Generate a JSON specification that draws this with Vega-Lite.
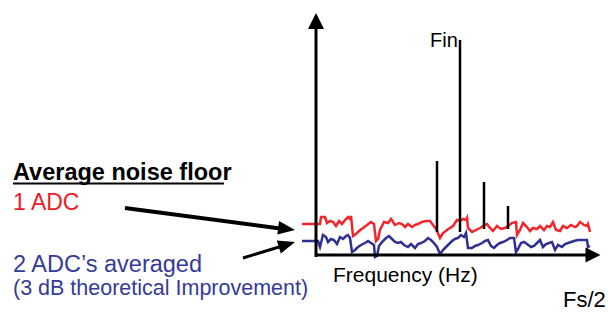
{
  "$schema": "https://vega.github.io/schema/vega-lite/v6.json",
  "width": 608,
  "height": 312,
  "autosize": {"type": "fit", "contains": "padding"},
  "padding": 0,
  "background": "white",
  "config": {"view": {"stroke": null}, "font": "Liberation Sans"},
  "datasets": {
    "noise": [
      {"series": "1 ADC", "x": 302, "y": 224}, {"series": "1 ADC", "x": 320, "y": 224}, {"series": "1 ADC", "x": 321, "y": 217}, {"series": "1 ADC", "x": 325, "y": 217},
      {"series": "1 ADC", "x": 327, "y": 223}, {"series": "1 ADC", "x": 330, "y": 221}, {"series": "1 ADC", "x": 333, "y": 222}, {"series": "1 ADC", "x": 336, "y": 226},
      {"series": "1 ADC", "x": 339, "y": 221}, {"series": "1 ADC", "x": 342, "y": 224}, {"series": "1 ADC", "x": 345, "y": 220}, {"series": "1 ADC", "x": 348, "y": 217},
      {"series": "1 ADC", "x": 350, "y": 219}, {"series": "1 ADC", "x": 351, "y": 216}, {"series": "1 ADC", "x": 353, "y": 236}, {"series": "1 ADC", "x": 356, "y": 234},
      {"series": "1 ADC", "x": 359, "y": 231}, {"series": "1 ADC", "x": 363, "y": 228}, {"series": "1 ADC", "x": 367, "y": 225}, {"series": "1 ADC", "x": 371, "y": 222},
      {"series": "1 ADC", "x": 374, "y": 224}, {"series": "1 ADC", "x": 376, "y": 241}, {"series": "1 ADC", "x": 378, "y": 239}, {"series": "1 ADC", "x": 380, "y": 230},
      {"series": "1 ADC", "x": 384, "y": 222}, {"series": "1 ADC", "x": 388, "y": 223}, {"series": "1 ADC", "x": 391, "y": 219}, {"series": "1 ADC", "x": 395, "y": 225},
      {"series": "1 ADC", "x": 399, "y": 223}, {"series": "1 ADC", "x": 402, "y": 224}, {"series": "1 ADC", "x": 405, "y": 227}, {"series": "1 ADC", "x": 408, "y": 224},
      {"series": "1 ADC", "x": 412, "y": 227}, {"series": "1 ADC", "x": 415, "y": 225}, {"series": "1 ADC", "x": 418, "y": 224}, {"series": "1 ADC", "x": 422, "y": 222},
      {"series": "1 ADC", "x": 426, "y": 221}, {"series": "1 ADC", "x": 430, "y": 221}, {"series": "1 ADC", "x": 433, "y": 225}, {"series": "1 ADC", "x": 436, "y": 229},
      {"series": "1 ADC", "x": 437, "y": 231}, {"series": "1 ADC", "x": 440, "y": 238}, {"series": "1 ADC", "x": 443, "y": 233}, {"series": "1 ADC", "x": 447, "y": 230},
      {"series": "1 ADC", "x": 450, "y": 228}, {"series": "1 ADC", "x": 453, "y": 226}, {"series": "1 ADC", "x": 457, "y": 220}, {"series": "1 ADC", "x": 460, "y": 221},
      {"series": "1 ADC", "x": 463, "y": 219}, {"series": "1 ADC", "x": 466, "y": 220}, {"series": "1 ADC", "x": 467, "y": 218}, {"series": "1 ADC", "x": 468, "y": 228},
      {"series": "1 ADC", "x": 472, "y": 232}, {"series": "1 ADC", "x": 476, "y": 230}, {"series": "1 ADC", "x": 480, "y": 228}, {"series": "1 ADC", "x": 483, "y": 226},
      {"series": "1 ADC", "x": 487, "y": 224}, {"series": "1 ADC", "x": 490, "y": 228}, {"series": "1 ADC", "x": 493, "y": 231}, {"series": "1 ADC", "x": 497, "y": 226},
      {"series": "1 ADC", "x": 501, "y": 229}, {"series": "1 ADC", "x": 505, "y": 228}, {"series": "1 ADC", "x": 508, "y": 226}, {"series": "1 ADC", "x": 512, "y": 223},
      {"series": "1 ADC", "x": 516, "y": 222}, {"series": "1 ADC", "x": 517, "y": 235}, {"series": "1 ADC", "x": 520, "y": 230}, {"series": "1 ADC", "x": 523, "y": 223},
      {"series": "1 ADC", "x": 527, "y": 227}, {"series": "1 ADC", "x": 530, "y": 231}, {"series": "1 ADC", "x": 533, "y": 228}, {"series": "1 ADC", "x": 537, "y": 229},
      {"series": "1 ADC", "x": 540, "y": 226}, {"series": "1 ADC", "x": 544, "y": 230}, {"series": "1 ADC", "x": 547, "y": 226}, {"series": "1 ADC", "x": 550, "y": 227},
      {"series": "1 ADC", "x": 553, "y": 222}, {"series": "1 ADC", "x": 556, "y": 230}, {"series": "1 ADC", "x": 560, "y": 231}, {"series": "1 ADC", "x": 563, "y": 226},
      {"series": "1 ADC", "x": 567, "y": 228}, {"series": "1 ADC", "x": 571, "y": 225}, {"series": "1 ADC", "x": 575, "y": 227}, {"series": "1 ADC", "x": 577, "y": 226},
      {"series": "1 ADC", "x": 580, "y": 222}, {"series": "1 ADC", "x": 584, "y": 225}, {"series": "1 ADC", "x": 587, "y": 226}, {"series": "1 ADC", "x": 588, "y": 224},
      {"series": "1 ADC", "x": 590, "y": 232},
      {"series": "2 ADC's averaged", "x": 302, "y": 241}, {"series": "2 ADC's averaged", "x": 318, "y": 241}, {"series": "2 ADC's averaged", "x": 320, "y": 247}, {"series": "2 ADC's averaged", "x": 323, "y": 235},
      {"series": "2 ADC's averaged", "x": 326, "y": 237}, {"series": "2 ADC's averaged", "x": 328, "y": 242}, {"series": "2 ADC's averaged", "x": 331, "y": 239}, {"series": "2 ADC's averaged", "x": 334, "y": 240},
      {"series": "2 ADC's averaged", "x": 337, "y": 244}, {"series": "2 ADC's averaged", "x": 340, "y": 237}, {"series": "2 ADC's averaged", "x": 343, "y": 239}, {"series": "2 ADC's averaged", "x": 346, "y": 236},
      {"series": "2 ADC's averaged", "x": 348, "y": 235}, {"series": "2 ADC's averaged", "x": 350, "y": 238}, {"series": "2 ADC's averaged", "x": 352, "y": 252}, {"series": "2 ADC's averaged", "x": 355, "y": 250},
      {"series": "2 ADC's averaged", "x": 358, "y": 247}, {"series": "2 ADC's averaged", "x": 361, "y": 245}, {"series": "2 ADC's averaged", "x": 365, "y": 243}, {"series": "2 ADC's averaged", "x": 368, "y": 241},
      {"series": "2 ADC's averaged", "x": 371, "y": 243}, {"series": "2 ADC's averaged", "x": 374, "y": 245}, {"series": "2 ADC's averaged", "x": 375, "y": 257}, {"series": "2 ADC's averaged", "x": 377, "y": 256},
      {"series": "2 ADC's averaged", "x": 379, "y": 246}, {"series": "2 ADC's averaged", "x": 382, "y": 242}, {"series": "2 ADC's averaged", "x": 386, "y": 238}, {"series": "2 ADC's averaged", "x": 389, "y": 236},
      {"series": "2 ADC's averaged", "x": 392, "y": 239}, {"series": "2 ADC's averaged", "x": 395, "y": 242}, {"series": "2 ADC's averaged", "x": 398, "y": 243}, {"series": "2 ADC's averaged", "x": 401, "y": 242},
      {"series": "2 ADC's averaged", "x": 404, "y": 245}, {"series": "2 ADC's averaged", "x": 408, "y": 247}, {"series": "2 ADC's averaged", "x": 411, "y": 244}, {"series": "2 ADC's averaged", "x": 415, "y": 248},
      {"series": "2 ADC's averaged", "x": 418, "y": 244}, {"series": "2 ADC's averaged", "x": 421, "y": 243}, {"series": "2 ADC's averaged", "x": 425, "y": 241}, {"series": "2 ADC's averaged", "x": 428, "y": 238},
      {"series": "2 ADC's averaged", "x": 431, "y": 240}, {"series": "2 ADC's averaged", "x": 434, "y": 243}, {"series": "2 ADC's averaged", "x": 437, "y": 247}, {"series": "2 ADC's averaged", "x": 440, "y": 254},
      {"series": "2 ADC's averaged", "x": 443, "y": 250}, {"series": "2 ADC's averaged", "x": 446, "y": 247}, {"series": "2 ADC's averaged", "x": 449, "y": 244}, {"series": "2 ADC's averaged", "x": 452, "y": 241},
      {"series": "2 ADC's averaged", "x": 455, "y": 239}, {"series": "2 ADC's averaged", "x": 458, "y": 238}, {"series": "2 ADC's averaged", "x": 461, "y": 235}, {"series": "2 ADC's averaged", "x": 464, "y": 237},
      {"series": "2 ADC's averaged", "x": 466, "y": 233}, {"series": "2 ADC's averaged", "x": 468, "y": 248}, {"series": "2 ADC's averaged", "x": 472, "y": 248}, {"series": "2 ADC's averaged", "x": 475, "y": 246},
      {"series": "2 ADC's averaged", "x": 478, "y": 245}, {"series": "2 ADC's averaged", "x": 482, "y": 243}, {"series": "2 ADC's averaged", "x": 485, "y": 241}, {"series": "2 ADC's averaged", "x": 488, "y": 240},
      {"series": "2 ADC's averaged", "x": 491, "y": 246}, {"series": "2 ADC's averaged", "x": 494, "y": 248}, {"series": "2 ADC's averaged", "x": 497, "y": 245}, {"series": "2 ADC's averaged", "x": 500, "y": 243},
      {"series": "2 ADC's averaged", "x": 503, "y": 242}, {"series": "2 ADC's averaged", "x": 507, "y": 240}, {"series": "2 ADC's averaged", "x": 510, "y": 238}, {"series": "2 ADC's averaged", "x": 514, "y": 238},
      {"series": "2 ADC's averaged", "x": 516, "y": 252}, {"series": "2 ADC's averaged", "x": 518, "y": 249}, {"series": "2 ADC's averaged", "x": 521, "y": 243}, {"series": "2 ADC's averaged", "x": 524, "y": 242},
      {"series": "2 ADC's averaged", "x": 527, "y": 244}, {"series": "2 ADC's averaged", "x": 531, "y": 247}, {"series": "2 ADC's averaged", "x": 534, "y": 246}, {"series": "2 ADC's averaged", "x": 537, "y": 243},
      {"series": "2 ADC's averaged", "x": 540, "y": 240}, {"series": "2 ADC's averaged", "x": 543, "y": 247}, {"series": "2 ADC's averaged", "x": 546, "y": 244}, {"series": "2 ADC's averaged", "x": 549, "y": 243},
      {"series": "2 ADC's averaged", "x": 552, "y": 242}, {"series": "2 ADC's averaged", "x": 555, "y": 250}, {"series": "2 ADC's averaged", "x": 558, "y": 245}, {"series": "2 ADC's averaged", "x": 562, "y": 247},
      {"series": "2 ADC's averaged", "x": 565, "y": 244}, {"series": "2 ADC's averaged", "x": 568, "y": 243}, {"series": "2 ADC's averaged", "x": 571, "y": 242}, {"series": "2 ADC's averaged", "x": 574, "y": 241},
      {"series": "2 ADC's averaged", "x": 578, "y": 240}, {"series": "2 ADC's averaged", "x": 583, "y": 240}, {"series": "2 ADC's averaged", "x": 587, "y": 240}, {"series": "2 ADC's averaged", "x": 588, "y": 247},
      {"series": "2 ADC's averaged", "x": 590, "y": 246}
    ],
    "spikes": [
      {"x": 437, "y": 232, "y2": 161},
      {"x": 460, "y": 232, "y2": 40},
      {"x": 484, "y": 229, "y2": 182},
      {"x": 508, "y": 229, "y2": 206}
    ],
    "axes": [
      {"x": 316, "y": 257, "x2": 316, "y2": 28},
      {"x": 315, "y": 255, "x2": 588, "y2": 255}
    ],
    "yhead": [{"x": 316, "y": 21}],
    "xhead": [{"x": 593, "y": 255}],
    "pointer1": [{"x": 125, "y": 208, "x2": 284, "y2": 229}],
    "pointer2": [{"x": 243, "y": 258, "x2": 284, "y2": 245.5}],
    "head1": [{"x": 286.6, "y": 228.9}],
    "head2": [{"x": 286.9, "y": 244.5}],
    "underline": [{"x": 13, "y": 183.5, "x2": 224, "y2": 183.5}],
    "title": [{"x": 13, "y": 180, "label": "Average noise floor"}],
    "redText": [{"x": 13, "y": 210, "label": "1 ADC"}],
    "blueText": [{"x": 13, "y": 272, "label": "2 ADC’s averaged"}],
    "blueSmall": [{"x": 13, "y": 295, "label": "(3 dB theoretical Improvement)"}],
    "freq": [{"x": 333, "y": 282, "label": "Frequency (Hz)"}],
    "fs": [{"x": 563, "y": 307, "label": "Fs/2"}],
    "fin": [{"x": 430, "y": 47, "label": "Fin"}]
  },
  "encoding": {
    "x": {"field": "x", "type": "quantitative", "scale": {"domain": [0, 608], "nice": false, "zero": false}, "axis": null},
    "y": {"field": "y", "type": "quantitative", "scale": {"domain": [0, 312], "nice": false, "zero": false, "reverse": true}, "axis": null}
  },
  "layer": [
    {
      "data": {"name": "noise"},
      "mark": {"type": "line", "strokeWidth": 2.5},
      "encoding": {
        "color": {"field": "series", "type": "nominal", "scale": {"domain": ["1 ADC", "2 ADC's averaged"], "range": ["#f0262c", "#2e3192"]}, "legend": null}
      }
    },
    {
      "data": {"name": "spikes"},
      "mark": {"type": "rule", "strokeWidth": 2.5, "color": "black"},
      "encoding": {"y2": {"field": "y2"}}
    },
    {
      "data": {"name": "axes"},
      "mark": {"type": "rule", "strokeWidth": 3, "color": "black"},
      "encoding": {"x2": {"field": "x2"}, "y2": {"field": "y2"}}
    },
    {
      "data": {"name": "yhead"},
      "mark": {"type": "point", "shape": "M0,-1L-1,1L1,1Z", "size": 256, "filled": true, "opacity": 1, "color": "black", "strokeWidth": 0}
    },
    {
      "data": {"name": "xhead"},
      "mark": {"type": "point", "shape": "M1,0L-1,-1L-1,1Z", "size": 225, "filled": true, "opacity": 1, "color": "black", "strokeWidth": 0}
    },
    {
      "data": {"name": "pointer1"},
      "mark": {"type": "rule", "strokeWidth": 4, "color": "black"},
      "encoding": {"x2": {"field": "x2"}, "y2": {"field": "y2"}}
    },
    {
      "data": {"name": "pointer2"},
      "mark": {"type": "rule", "strokeWidth": 3, "color": "black"},
      "encoding": {"x2": {"field": "x2"}, "y2": {"field": "y2"}}
    },
    {
      "data": {"name": "head1"},
      "mark": {"type": "point", "shape": "M1,0L-1,-0.8L-1,0.8Z", "size": 289, "angle": 7.4, "filled": true, "opacity": 1, "color": "black", "strokeWidth": 0}
    },
    {
      "data": {"name": "head2"},
      "mark": {"type": "point", "shape": "M1,0L-1,-0.8L-1,0.8Z", "size": 289, "angle": -17, "filled": true, "opacity": 1, "color": "black", "strokeWidth": 0}
    },
    {
      "data": {"name": "underline"},
      "mark": {"type": "rule", "strokeWidth": 2, "color": "black"},
      "encoding": {"x2": {"field": "x2"}, "y2": {"field": "y2"}}
    },
    {
      "data": {"name": "title"},
      "mark": {"type": "text", "align": "left", "baseline": "alphabetic", "fontSize": 23.5, "fontWeight": "bold", "color": "black"},
      "encoding": {"text": {"field": "label"}}
    },
    {
      "data": {"name": "redText"},
      "mark": {"type": "text", "align": "left", "baseline": "alphabetic", "fontSize": 23, "color": "#ee1d25"},
      "encoding": {"text": {"field": "label"}}
    },
    {
      "data": {"name": "blueText"},
      "mark": {"type": "text", "align": "left", "baseline": "alphabetic", "fontSize": 23.5, "color": "#353b98"},
      "encoding": {"text": {"field": "label"}}
    },
    {
      "data": {"name": "blueSmall"},
      "mark": {"type": "text", "align": "left", "baseline": "alphabetic", "fontSize": 21.5, "color": "#353b98"},
      "encoding": {"text": {"field": "label"}}
    },
    {
      "data": {"name": "freq"},
      "mark": {"type": "text", "align": "left", "baseline": "alphabetic", "fontSize": 21, "color": "black"},
      "encoding": {"text": {"field": "label"}}
    },
    {
      "data": {"name": "fs"},
      "mark": {"type": "text", "align": "left", "baseline": "alphabetic", "fontSize": 22, "color": "black"},
      "encoding": {"text": {"field": "label"}}
    },
    {
      "data": {"name": "fin"},
      "mark": {"type": "text", "align": "left", "baseline": "alphabetic", "fontSize": 20, "color": "black"},
      "encoding": {"text": {"field": "label"}}
    }
  ]
}
